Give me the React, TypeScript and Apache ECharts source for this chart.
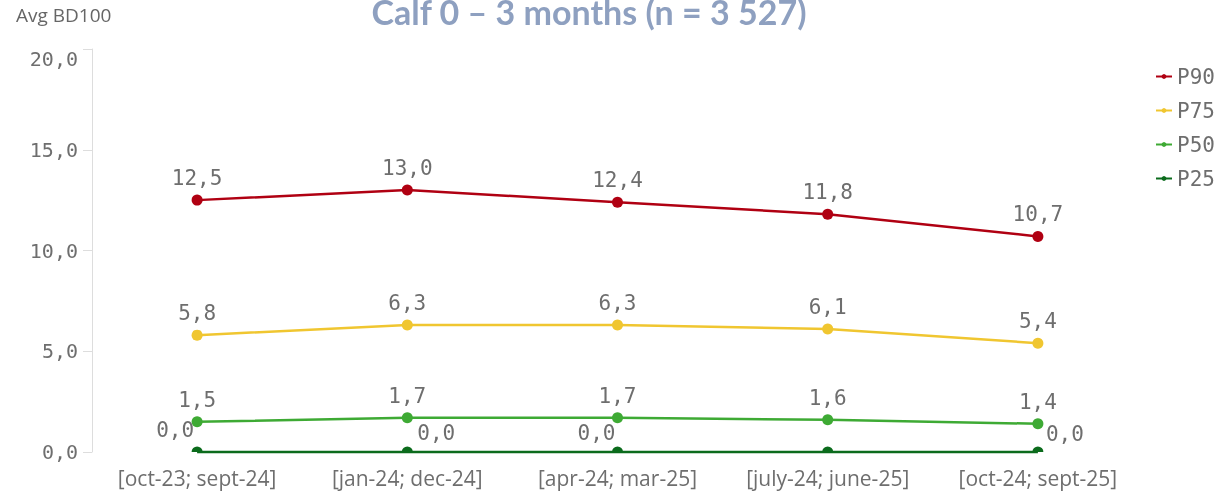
import React, { useEffect, useRef } from "react";
import * as echarts from "echarts";

const categories = [
  "[oct-23; sept-24]",
  "[jan-24; dec-24]",
  "[apr-24; mar-25]",
  "[july-24; june-25]",
  "[oct-24; sept-25]",
];
const p90 = [12.5, 13.0, 12.4, 11.8, 10.7];
const p75 = [5.8, 6.3, 6.3, 6.1, 5.4];
const p50 = [1.5, 1.7, 1.7, 1.6, 1.4];
const p25 = [0.0, 0.0, 0.0, 0.0, 0.0];
const yTicks = [0, 5, 20];

const MONO = "'DejaVu Sans Mono', monospace";
const SANS = "'Open Sans', sans-serif";
const LABEL_COLOR = "#6e6e6e";

const fmt = (v: number) => v.toFixed(1).replace(".", ",");

export default function App() {
  const ref = useRef<HTMLDivElement>(null);
  useEffect(() => {
    if (!ref.current) return;
    const chart = echarts.init(ref.current, undefined, { renderer: "svg" });

    const baseLabel = {
      show: true,
      position: "top" as const,
      distance: 6,
      color: LABEL_COLOR,
      fontFamily: MONO,
      fontSize: 21,
      formatter: (p: any) => fmt(p.value as number),
    };

    const p25Offsets: ([number, number] | null)[] = [
      [-22, -19],
      [29, -16],
      [-21, -16],
      null,
      [27, -15],
    ];
    const halfDisk = "path://M0,10 A10,10 0 0 1 20,10 Z";
    const p25Data = p25.map((v, i) => {
      const off = p25Offsets[i];
      return {
        value: v,
        symbol: halfDisk,
        symbolSize: [11, 5.5],
        symbolOffset: [0, -2.75],
        label: off
          ? { show: true, position: "inside", offset: off }
          : { show: false },
      };
    });

    const mk = (name: string, data: any[], color: string, label: any) => ({
      name,
      type: "line",
      data,
      symbol: "circle",
      symbolSize: 11,
      lineStyle: { width: 2.5, color },
      itemStyle: { color },
      label,
      clip: false,
      z: 3,
    });

    chart.setOption({
      animation: false,
      graphic: [
        {
          type: "text",
          left: 16,
          top: 5,
          style: {
            text: "Avg BD100",
            fill: "#666666",
            font: `19px ${SANS}`,
          },
        },
        {
          type: "text",
          x: 589,
          y: 11,
          style: {
            text: "Calf 0 – 3 months (n = 3 527)",
            fill: "#8EA0C0",
            font: `bold 34px Lato, ${SANS}`,
            align: "center",
            verticalAlign: "middle",
          },
        },
      ],
      legend: {
        orient: "vertical",
        left: 1150,
        top: 61,
        itemWidth: 16,
        itemHeight: 6,
        itemGap: 13,
        textStyle: {
          color: "#6e6e6e",
          fontFamily: MONO,
          fontSize: 21,
          lineHeight: 21,
        },
        data: ["P90", "P75", "P50", "P25"],
      },
      grid: { left: 92, right: 78, top: 49, bottom: 43, containLabel: false },
      xAxis: {
        type: "category",
        data: categories,
        boundaryGap: true,
        axisLine: { show: false },
        axisTick: { show: false },
        axisLabel: {
          interval: 0,
          color: LABEL_COLOR,
          fontFamily: SANS,
          fontSize: 21,
          margin: 15,
        },
      },
      yAxis: {
        type: "value",
        min: yTicks[0],
        max: yTicks[2],
        interval: yTicks[1],
        axisLine: { show: true, lineStyle: { color: "#dddddd", width: 1 } },
        axisTick: { show: true, length: 9, lineStyle: { color: "#dddddd" } },
        splitLine: { show: false },
        axisLabel: {
          color: LABEL_COLOR,
          fontFamily: MONO,
          fontSize: 20,
          margin: 14,
          formatter: (v: number) => fmt(v),
          verticalAlignMaxLabel: "top",
        },
      },
      series: [
        mk("P90", p90, "#B00012", baseLabel),
        mk("P75", p75, "#F0C630", baseLabel),
        mk("P50", p50, "#3EAA34", baseLabel),
        mk("P25", p25Data, "#0B6B1C", baseLabel),
      ],
    });
    return () => chart.dispose();
  }, []);
  return (
    <div
      ref={ref}
      style={{ position: "fixed", left: 0, top: 0, width: 1221, height: 495 }}
    />
  );
}
